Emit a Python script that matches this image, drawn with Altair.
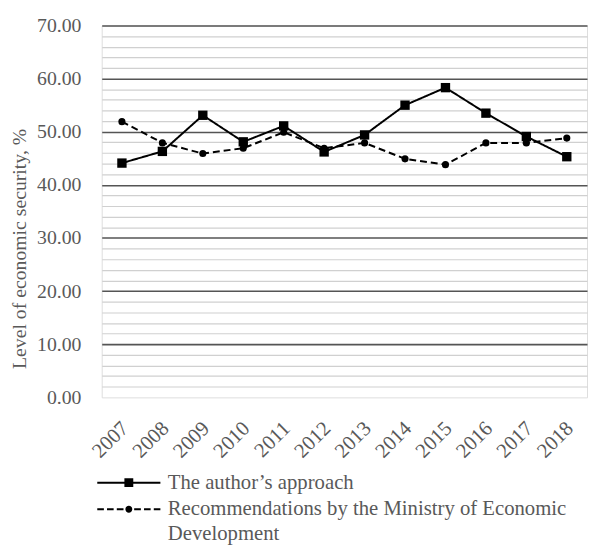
import json
import altair as alt
import pandas as pd

# ---- data ----
years = ["2007", "2008", "2009", "2010", "2011", "2012",
         "2013", "2014", "2015", "2016", "2017", "2018"]
author_values = [44.1, 46.3, 53.1, 48.1, 51.1, 46.2, 49.4, 55.0, 58.3, 53.5, 49.1, 45.3]
ministry_values = [51.9, 47.9, 45.9, 46.9, 49.9, 46.9, 47.9, 44.9, 43.8, 47.9, 47.9, 48.8]
series_names = ["The author’s approach",
                "Recommendations by the Ministry of Economic Development"]
legend_label_lines = ["Recommendations by the Ministry of Economic", "Development"]
y_tick_values = list(range(0, 72, 2))

rows = []
for y, a, m in zip(years, author_values, ministry_values):
    rows.append({"year": y, "series": series_names[0], "value": a})
    rows.append({"year": y, "series": series_names[1], "value": m})
df = pd.DataFrame(rows)

FONT = "Liberation Serif"
GREY = "#595959"

# legend glyphs (line with marker) as filled paths; unit = sqrt(symbolSize)/2 px
author_glyph = "M-3.2,-0.1H3.2V0.1H-3.2Z M-0.45,-0.45H0.45V0.45H-0.45Z"
ministry_glyph = (
    "M-3.2,-0.1H-2.53V0.1H-3.2Z M-2.21,-0.1H-1.54V0.1H-2.21Z "
    "M-1.22,-0.1H-0.54V0.1H-1.22Z M0.54,-0.1H1.22V0.1H0.54Z "
    "M1.54,-0.1H2.21V0.1H1.54Z M2.53,-0.1H3.2V0.1H2.53Z "
    "M-0.35,0A0.35,0.35 0 1,0 0.35,0A0.35,0.35 0 1,0 -0.35,0Z"
)

label_expr = "datum.label == {} ? {} : datum.label".format(
    json.dumps(series_names[1]), json.dumps(legend_label_lines)
)

x_enc = alt.X(
    "year:N", sort=years, scale=alt.Scale(padding=0.5),
    axis=alt.Axis(
        title=None, labelAngle=-45, labelAlign="right", labelBaseline="middle",
        labelFont=FONT, labelFontSize=21, labelColor=GREY, labelPadding=28,
        labelOffset=3,
        ticks=False, domain=False, grid=False,
    ),
)
y_enc = alt.Y(
    "value:Q", scale=alt.Scale(domain=[0, 70], nice=False),
    axis=alt.Axis(
        values=y_tick_values,
        labelExpr="datum.value % 10 == 0 ? format(datum.value, '.2f') : ''",
        labelOverlap=False, labelFlush=False,
        labelFont=FONT, labelFontSize=20, labelColor=GREY, labelPadding=21,
        ticks=False, domain=False, grid=True,
        gridColor=alt.condition("datum.value % 10 == 0", alt.value("#555555"), alt.value("#d0d0d0")),
        gridWidth=alt.condition("datum.value % 10 == 0", alt.value(1.6), alt.value(1.2)),
        gridOpacity=alt.condition("datum.value == 0", alt.value(0), alt.value(1)),
        title="Level of economic security, %", titleFont=FONT, titleFontSize=20,
        titleFontWeight="normal", titleColor=GREY, titleAngle=270,
        titleX=-77, titleY=226, titleAlign="center", titleBaseline="alphabetic",
    ),
)

base = alt.Chart(df).encode(x=x_enc, y=y_enc)

lines = base.mark_line(color="black", strokeWidth=2).encode(
    strokeDash=alt.StrokeDash(
        "series:N",
        scale=alt.Scale(domain=series_names, range=[[1, 0], [7, 4]]),
        legend=None,
    )
)

points = base.mark_point(filled=True, color="black", opacity=1).encode(
    shape=alt.Shape(
        "series:N",
        scale=alt.Scale(domain=series_names, range=["square", "circle"]),
        legend=None,
    ),
    size=alt.condition(alt.datum.series == series_names[0], alt.value(90), alt.value(52)),
)

legend_layer = alt.Chart(df).transform_filter("false").mark_point(
    filled=True, color="black", opacity=1
).encode(
    shape=alt.Shape(
        "series:N",
        scale=alt.Scale(domain=series_names, range=[author_glyph, ministry_glyph]),
        legend=alt.Legend(
            title=None, orient="none", legendX=-5, legendY=453, direction="vertical",
            symbolSize=400, symbolStrokeWidth=0, symbolFillColor="black",
            symbolOpacity=1, symbolOffset=22, padding=0, rowPadding=5,
            labelFont=FONT, labelFontSize=21, labelColor=GREY, labelLimit=0,
            labelOffset=29, labelExpr=label_expr, labelBaseline="middle",
        ),
    )
)

chart = (
    alt.layer(lines, points, legend_layer)
    .resolve_scale(shape="independent")
    .properties(
        width=492, height=377,
        autosize=alt.AutoSizeParams(type="none"),
        padding={"left": 95, "top": 14, "right": 1, "bottom": 150},
        background="white",
    )
    .configure_view(stroke=None)
    .configure(style={"guide-label": {"lineHeight": 25}})
)

chart.save("out.html", embed_options={"renderer": "svg", "actions": False})
